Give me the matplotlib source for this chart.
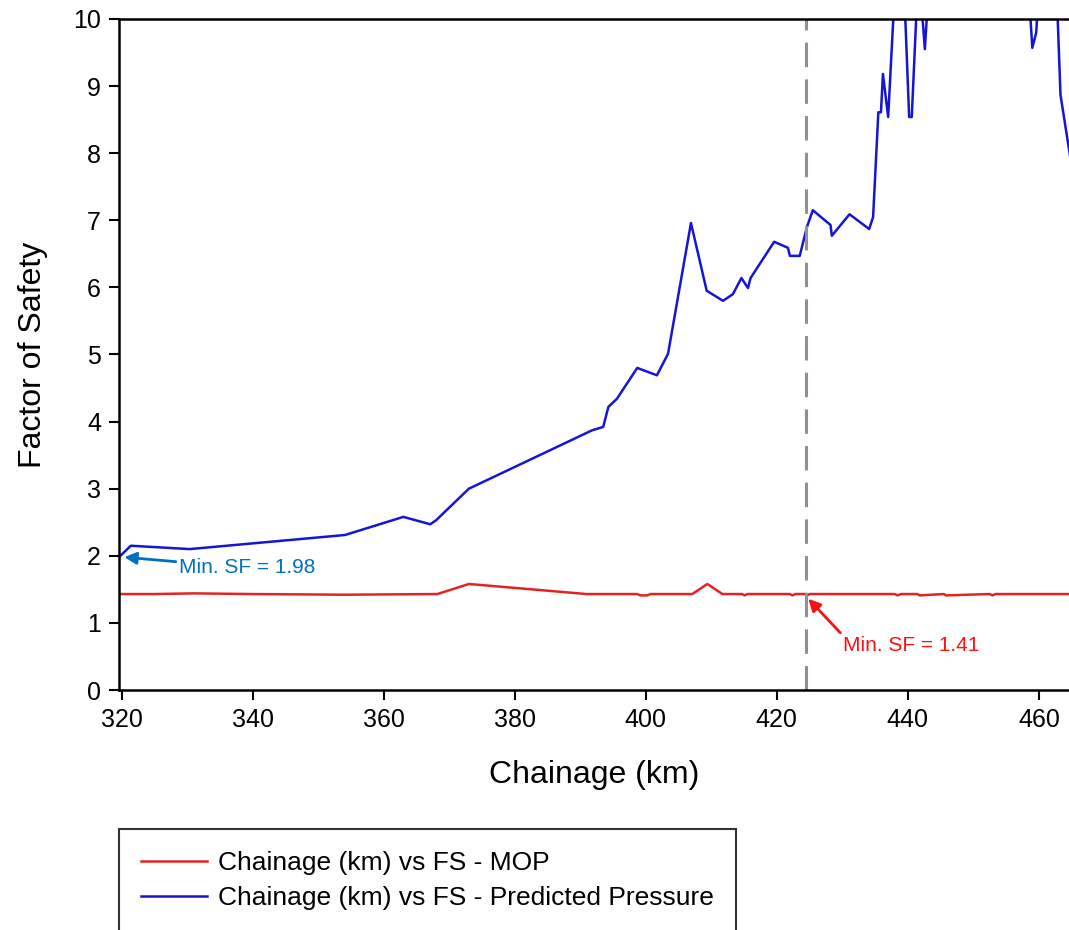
import numpy as np
import matplotlib.pyplot as plt

plt.rcParams['font.family'] = ['Liberation Sans', 'DejaVu Sans']

# FS - MOP (red)
x_mop = [319.6, 325.0, 331.0, 340.0, 354.0, 368.2, 373.0, 391.0, 398.7, 399.2, 400.2, 400.7,
         407.1, 409.4, 411.7, 414.7, 415.1, 415.5, 422.0, 422.4, 422.8, 424.3, 424.6, 425.0,
         438.0, 438.4, 439.0, 441.5, 441.8, 445.5, 445.8, 452.5, 452.9, 453.4, 464.6]
fs_mop = [1.43, 1.43, 1.44, 1.43, 1.42, 1.43, 1.58, 1.43, 1.43, 1.41, 1.41, 1.43,
          1.43, 1.58, 1.43, 1.43, 1.41, 1.43, 1.43, 1.41, 1.43, 1.43, 1.41, 1.43,
          1.43, 1.41, 1.43, 1.43, 1.41, 1.43, 1.41, 1.43, 1.41, 1.43, 1.43]

# FS - Predicted Pressure (blue)
x_pred = [319.6, 321.4, 330.4, 354.1, 363.0, 367.1, 368.0, 373.0, 391.8, 393.5, 394.3,
          395.6, 398.7, 401.7, 403.4, 406.9, 409.3, 411.8, 413.3, 414.6, 415.6, 416.0,
          419.6, 421.7, 422.0, 423.5, 424.6, 425.5, 428.2, 428.4, 431.1, 434.1, 434.7,
          435.5, 435.9, 436.2, 437.0, 438.1, 439.3, 440.2, 440.6, 441.5, 442.1, 442.6,
          443.2, 446.0, 452.0, 457.0, 458.4, 459.0, 459.6, 460.3, 462.5, 463.3, 465.5]
fs_pred = [1.98, 2.15, 2.10, 2.31, 2.58, 2.47, 2.53, 3.00, 3.87, 3.92, 4.22,
           4.34, 4.80, 4.69, 5.01, 6.96, 5.95, 5.80, 5.90, 6.14, 5.99, 6.14,
           6.68, 6.59, 6.47, 6.47, 6.90, 7.15, 6.93, 6.77, 7.09, 6.87, 7.05,
           8.61, 8.61, 9.18, 8.54, 10.6, 10.8, 8.54, 8.54, 10.5, 10.2, 9.55,
           10.5, 11.5, 12.0, 11.0, 10.5, 9.57, 9.80, 11.0, 11.0, 8.87, 7.5]

x_min_line = 424.5

fig = plt.figure(figsize=(10.69, 9.3), dpi=100)
ax = fig.add_axes([119/1069, 1-690/930, 1-119/1069, (690-19)/930])

l1, = ax.plot(x_mop, fs_mop, color='#E52222', lw=1.8, label='Chainage (km) vs FS - MOP')
l2, = ax.plot(x_pred, fs_pred, color='#1515D5', lw=1.8, label='Chainage (km) vs FS - Predicted Pressure')
ax.axvline(x_min_line, color='#909090', lw=2.2, dashes=(8, 4))

ax.annotate('Min. SF = 1.98', xy=(320.4, 1.98), xytext=(328.7, 1.82),
            color='#0070C0', fontsize=15, va='center',
            arrowprops=dict(arrowstyle='-|>', color='#0070C0', lw=2, mutation_scale=18,
                            shrinkA=0, shrinkB=0))
ax.annotate('Min. SF = 1.41', xy=(424.8, 1.36), xytext=(430.1, 0.67),
            color='#FF1010', fontsize=15, va='center',
            arrowprops=dict(arrowstyle='-|>', color='#FF1010', lw=2, mutation_scale=18,
                            shrinkA=0, shrinkB=0, relpos=(0, 1)))

ax.set_xlim(319.6, 464.6)
ax.set_ylim(0, 10)
ax.set_xticks(np.arange(320, 461, 20))
ax.set_yticks(np.arange(0, 11, 1))
ax.tick_params(labelsize=18, length=7, width=1.5, direction='out', pad=6)
for s in ['left', 'bottom', 'top']:
    ax.spines[s].set_linewidth(1.8)
ax.spines['right'].set_visible(False)

ax.set_xlabel('Chainage (km)', fontsize=23, labelpad=20)
ax.set_ylabel('Factor of Safety', fontsize=23, labelpad=18)

leg = fig.legend(handles=[l1, l2], loc='upper left', bbox_to_anchor=(119/1069, 1-829/930),
                 fontsize=19, frameon=True, fancybox=False, edgecolor='black',
                 borderpad=0.85, labelspacing=0.4, handlelength=2.5, handletextpad=0.4,
                 borderaxespad=0)
leg.get_frame().set_linewidth(1.5)

fig.savefig('out.png', dpi=100)
